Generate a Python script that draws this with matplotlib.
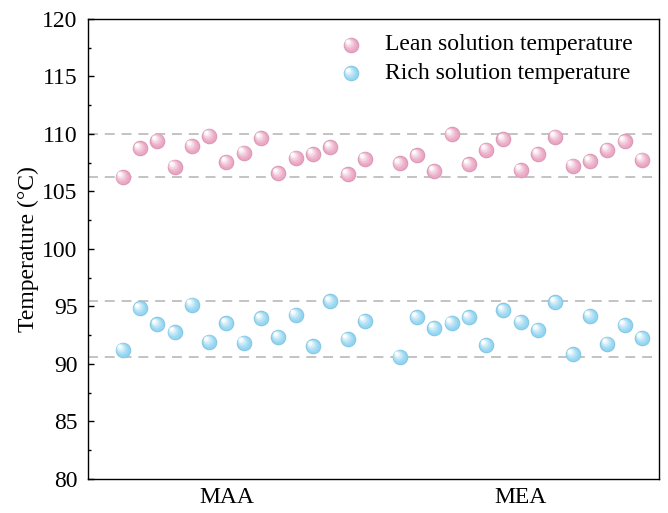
import numpy as np
import matplotlib
matplotlib.use("Agg")
import matplotlib.pyplot as plt
from matplotlib import transforms
from matplotlib.colors import to_rgb

plt.rcParams['font.family'] = ['Liberation Serif', 'DejaVu Serif']
plt.rcParams['mathtext.fontset'] = 'stix'

groups = ['MAA', 'MEA']
group_ticks = [7, 24]

lean_maa = [106.26, 108.76, 109.42, 107.16, 108.96, 109.85, 107.57, 108.37,
            109.65, 106.58, 107.94, 108.26, 108.87, 106.50, 107.83]
lean_mea = [107.45, 108.15, 106.78, 109.97, 107.37, 108.63, 109.54, 106.87,
            108.26, 109.77, 107.24, 107.65, 108.63, 109.37, 107.77]
rich_maa = [91.24, 94.84, 93.45, 92.76, 95.16, 91.94, 93.54, 91.85,
            93.97, 92.35, 94.26, 91.54, 95.45, 92.17, 93.74]
rich_mea = [90.63, 94.06, 93.13, 93.57, 94.06, 91.65, 94.67, 93.65,
            92.96, 95.37, 90.84, 94.17, 91.77, 93.37, 92.26]

x_maa = np.arange(1, 16)
x_mea = np.arange(17, 32)

pink = '#E9A3C1'
blue = '#8FD4F1'


def blend(c, t):
    c = np.array(to_rgb(c))
    return tuple(c + (1 - c) * t)


def sphere(ax, fig, x, y, color, d=11.2, transform=None, n=16):
    # fake shaded ball: stacked circles getting smaller, lighter and shifted up-left
    if transform is None:
        transform = ax.transData
    rim = tuple(np.array(to_rgb(color)) * 0.92)
    ax.scatter(x, y, s=d ** 2, color=rim, linewidths=0, transform=transform,
               zorder=3, clip_on=False)
    ax.scatter(x, y, s=(d * 0.9) ** 2, color=color, linewidths=0,
               transform=transform, zorder=3, clip_on=False)
    for k in range(1, n + 1):
        f = k / n
        size = d * 0.88 * (1 - 0.85 * f)
        off = transforms.offset_copy(transform, fig=fig, x=-0.24 * d * f,
                                     y=0.24 * d * f, units='points')
        ax.scatter(x, y, s=size ** 2, color=blend(color, min(1.0, 1.1 * f ** 1.3)),
                   linewidths=0, transform=off, zorder=3, clip_on=False)


fig = plt.figure(figsize=(6.68, 5.13), dpi=100)
ax = fig.add_axes([0.1317, 0.0663, 0.8553, 0.8967])

lean_all = lean_maa + lean_mea
rich_all = rich_maa + rich_mea
for v in [max(lean_all), min(lean_all), max(rich_all), min(rich_all)]:
    ax.axhline(v, color='#BEBEBE', lw=1.3, dashes=(5.5, 3.8), zorder=1)

sphere(ax, fig, x_maa, lean_maa, pink)
sphere(ax, fig, x_mea, lean_mea, pink)
sphere(ax, fig, x_maa, rich_maa, blue)
sphere(ax, fig, x_mea, rich_mea, blue)

# legend
sphere(ax, fig, [0.46], [0.944], pink, transform=ax.transAxes)
sphere(ax, fig, [0.46], [0.882], blue, transform=ax.transAxes)
ax.text(0.52, 0.944, 'Lean solution temperature', transform=ax.transAxes,
        fontsize=17, va='center', ha='left')
ax.text(0.52, 0.882, 'Rich solution temperature', transform=ax.transAxes,
        fontsize=17, va='center', ha='left')

ax.set_xlim(-1, 32)
ax.set_ylim(80, 120)
ax.set_xticks(group_ticks)
ax.set_xticklabels(groups, fontsize=17)
ax.tick_params(axis='x', length=0, pad=6)
ax.set_yticks(np.arange(80, 121, 5))
ax.set_yticks(np.arange(80, 120, 2.5), minor=True)
ax.tick_params(axis='y', which='major', direction='in', length=4, width=1,
               labelsize=17, pad=7.5)
ax.tick_params(axis='y', which='minor', direction='in', length=2.5, width=1)
for s in ax.spines.values():
    s.set_linewidth(1)
ax.set_ylabel('Temperature (°C)', fontsize=17, labelpad=2)

fig.savefig('out.png', dpi=100)
